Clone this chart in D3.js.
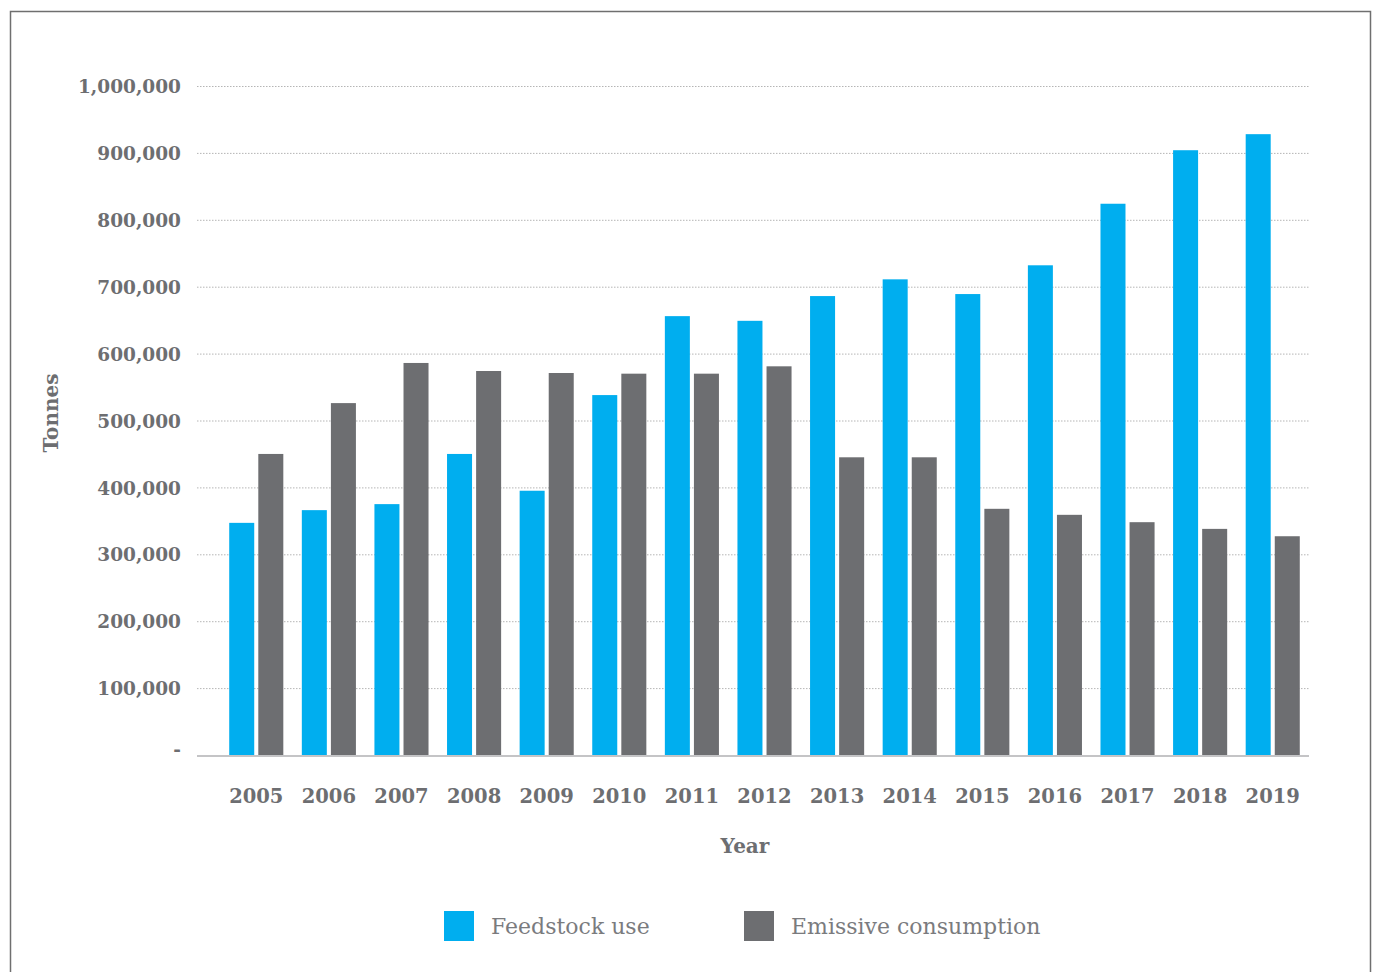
<!DOCTYPE html>
<html><head><meta charset="utf-8">
<script src="https://cdn.jsdelivr.net/npm/d3@7"></script>
<style>body{margin:0;background:#fff}svg{display:block}</style>
</head><body><svg id="c" width="1375" height="972"></svg>
<script>
const years = ["2005","2006","2007","2008","2009","2010","2011","2012","2013","2014","2015","2016","2017","2018","2019"];
const feedstock = [347000,366000,375000,450000,395000,538000,656000,649000,686000,711000,689000,732000,824000,904000,928000];
const emissive = [450000,526000,586000,574000,571000,570000,570000,581000,445000,445000,368000,359000,348000,338000,327000];
const seriesNames = ["Feedstock use","Emissive consumption"];
const colors = ["#00aeef","#6d6e71"];
const yTicks = [0,100000,200000,300000,400000,500000,600000,700000,800000,900000,1000000];

const svg = d3.select("#c");
const textCol = "#6d6e71";
const tickFont = "DejaVu Serif";

svg.append("rect").attr("x",10.5).attr("y",11.5).attr("width",1360).attr("height",980)
  .attr("fill","none").attr("stroke","#6f6f6f").attr("stroke-width",1.5);

const y = d3.scaleLinear().domain([0,1000000]).range([755,86]);
const x = d3.scaleBand().domain(years).range([220,1309]).paddingInner(0.255).paddingOuter(0.127);
const xs = d3.scaleBand().domain([0,1]).range([0,x.bandwidth()]).paddingInner(0.14);

// grid
svg.append("g").selectAll("line").data(yTicks.filter(d=>d>0)).join("line")
  .attr("x1",197).attr("x2",1309).attr("y1",d=>y(d)+0.5).attr("y2",d=>y(d)+0.5)
  .attr("stroke","#b5b5b5").attr("stroke-width",1).attr("stroke-dasharray","1.5,1.5");

// y axis labels
const fmt = d3.format(",");
const yAxis = d3.axisLeft(y).tickValues(yTicks).tickSize(0).tickPadding(0)
  .tickFormat(d=> d===0 ? "-" : fmt(d));
const ya = svg.append("g").attr("transform","translate(181,0)").call(yAxis);
ya.select(".domain").remove();
ya.selectAll("text").attr("font-family",tickFont).attr("font-size",18.5).attr("font-weight","bold")
  .attr("fill",textCol).attr("dy",d=> d===0 ? "0.05em" : "0.36em");

// bars
const groups = svg.append("g").selectAll("g").data(years).join("g")
  .attr("transform",d=>`translate(${x(d)},0)`);
groups.selectAll("rect").data((d,i)=>[feedstock[i],emissive[i]]).join("rect")
  .attr("x",(d,j)=>xs(j)).attr("width",xs.bandwidth())
  .attr("y",d=>y(d)).attr("height",d=>y(0)-y(d))
  .attr("fill",(d,j)=>colors[j]);

// baseline
svg.append("line").attr("x1",197).attr("x2",1309).attr("y1",y(0)+1).attr("y2",y(0)+1)
  .attr("stroke","#c4c4c6").attr("stroke-width",2);

// x axis labels
const xAxis = d3.axisBottom(x).tickSize(0).tickPadding(0);
const xa = svg.append("g").attr("transform","translate(0,796)").call(xAxis);
xa.select(".domain").remove();
xa.selectAll("text").attr("font-family",tickFont).attr("font-size",19.5).attr("font-weight","bold")
  .attr("fill",textCol).attr("dy","0.36em");

// axis titles
svg.append("text").attr("x",745).attr("y",853).attr("text-anchor","middle")
  .attr("font-family",tickFont).attr("font-size",20).attr("font-weight","bold").attr("fill",textCol).text("Year");
svg.append("text").attr("transform","translate(58,413) rotate(-90)").attr("text-anchor","middle")
  .attr("font-family",tickFont).attr("font-size",20).attr("font-weight","bold").attr("fill",textCol).text("Tonnes");

// legend
const legX = [444,744];
const leg = svg.append("g").selectAll("g").data(seriesNames).join("g")
  .attr("transform",(d,i)=>`translate(${legX[i]},911)`);
leg.append("rect").attr("width",30).attr("height",30).attr("fill",(d,i)=>colors[i]);
leg.append("text").attr("x",47).attr("y",23).attr("font-family",tickFont).attr("font-size",22)
  .attr("font-weight","normal").attr("fill","#7a7b7e").text(d=>d);
</script></body></html>
